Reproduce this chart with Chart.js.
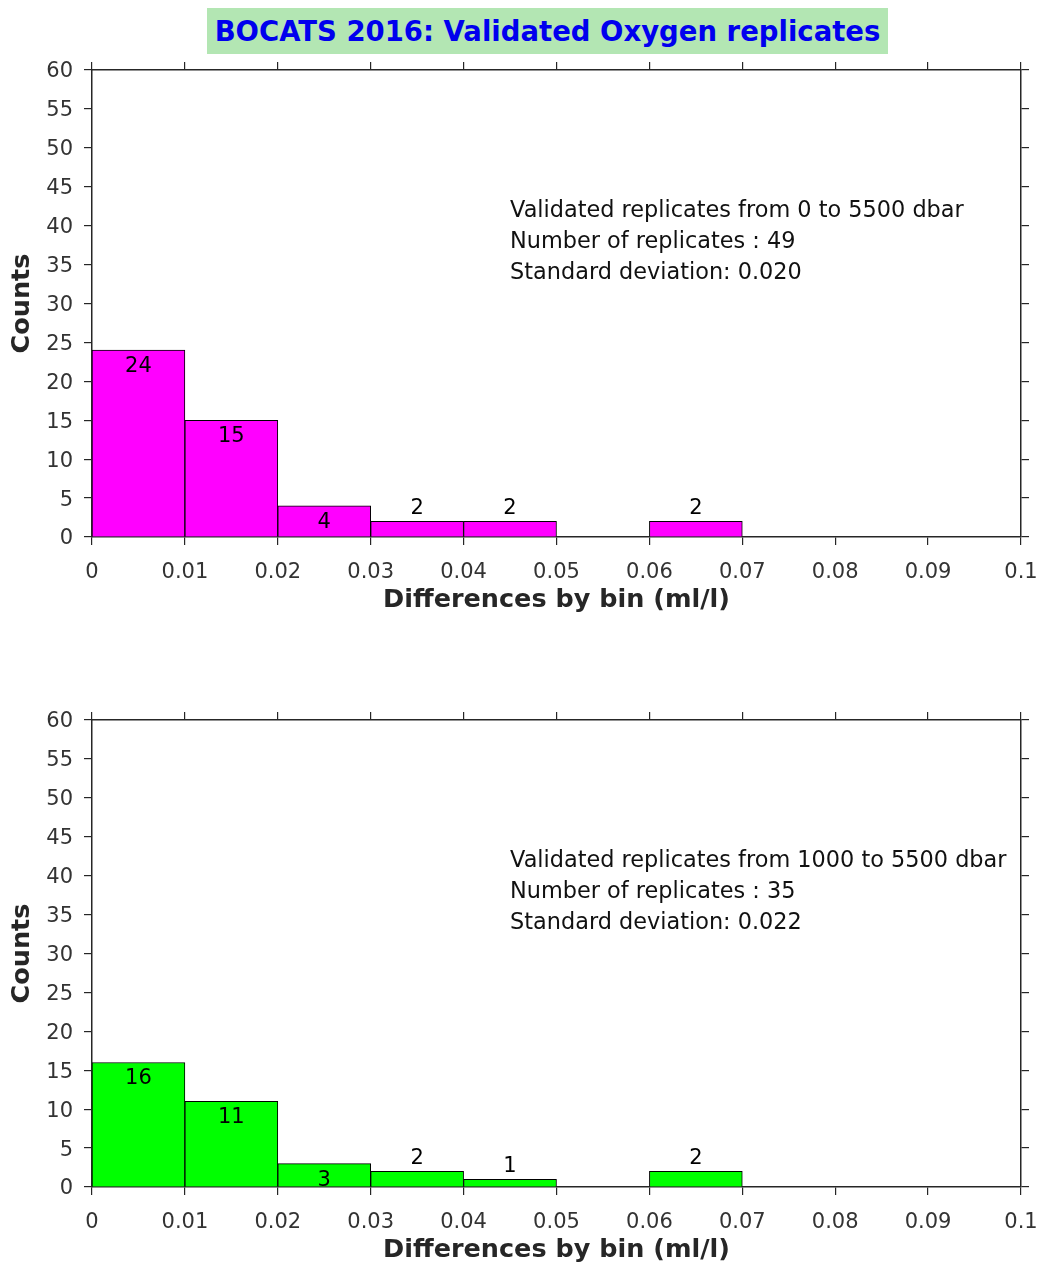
<!DOCTYPE html>
<html>
<head>
<meta charset="utf-8">
<title>BOCATS 2016: Validated Oxygen replicates</title>
<script src="https://cdn.jsdelivr.net/npm/chart.js@4.4.0/dist/chart.umd.min.js"></script>
<style>
  html, body { margin: 0; padding: 0; background: #fff; overflow: hidden; }
  #wrap { position: relative; width: 1041px; height: 1266px; }
  canvas { position: absolute; left: 0; }
  #c1 { top: 0; }
  #c2 { top: 650px; }
  #title {
    position: absolute; left: 207px; top: 8px; width: 681px; height: 46px;
    background: #b3e6b3; color: #0000ee; font: bold 27.5px 'DejaVu Sans';
    line-height: 46px; text-align: center; white-space: nowrap;
  }
</style>
</head>
<body>
<div id="wrap">
  <canvas id="c1" width="1041" height="616"></canvas>
  <canvas id="c2" width="1041" height="616"></canvas>
  <div id="title">BOCATS 2016: Validated Oxygen replicates</div>
</div>
<script>
// histogram bins (centre of each 0.01 ml/l bin)
const binCenters = [0.005, 0.015, 0.025, 0.035, 0.045, 0.055, 0.065, 0.075, 0.085, 0.095];
const countsAll  = [24, 15, 4, 2, 2, 0, 2, 0, 0, 0];   // 0 to 5500 dbar
const countsDeep = [16, 11, 3, 2, 1, 0, 2, 0, 0, 0];   // 1000 to 5500 dbar

const xMin = 0, xMax = 0.1, xStep = 0.01;
const yMin = 0, yMax = 60, yStep = 5;

const infoAll = [
  'Validated replicates from 0 to 5500 dbar',
  'Number of replicates : 49',
  'Standard deviation: 0.020'
];
const infoDeep = [
  'Validated replicates from 1000 to 5500 dbar',
  'Number of replicates : 35',
  'Standard deviation: 0.022'
];

const axisColor = '#262626';
const font = 'DejaVu Sans';

// count labels: inside the bar for tall bars, above for short ones
const barLabels = {
  id: 'barLabels',
  afterDatasetsDraw(chart) {
    const ctx = chart.ctx;
    const ys = chart.scales.y;
    const meta = chart.getDatasetMeta(0);
    const vals = chart.data.datasets[0].data;
    ctx.save();
    ctx.font = '21px ' + font;
    ctx.fillStyle = '#000';
    ctx.textAlign = 'center';
    ctx.textBaseline = 'middle';
    meta.data.forEach((bar, i) => {
      const v = vals[i].y;
      if (!v) return;
      const at = v >= 3 ? v - 2 : v + 1.8;
      ctx.fillText(String(v), bar.x, ys.getPixelForValue(at) + 1);
    });
    ctx.restore();
  }
};

// info text block inside the axes
const infoText = {
  id: 'infoText',
  afterDraw(chart, args, opts) {
    const ctx = chart.ctx;
    const x = chart.scales.x.getPixelForValue(0.045);
    ctx.save();
    ctx.font = '22.4px ' + font;
    ctx.fillStyle = '#111';
    ctx.textAlign = 'left';
    ctx.textBaseline = 'middle';
    opts.lines.forEach((t, i) => {
      ctx.fillText(t, x, chart.scales.y.getPixelForValue(42 - 4 * i) + 1);
    });
    ctx.restore();
  }
};

function makeChart(id, counts, color, lines) {
  const gridOpts = {
    drawOnChartArea: false, drawTicks: true, tickLength: 8,
    color: axisColor, lineWidth: 1.2, offset: false
  };
  const borderOpts = { display: true, color: axisColor, width: 1.5 };
  const noPad = s => { s.paddingLeft = 0; s.paddingRight = 0; s.paddingTop = 0; s.paddingBottom = 0; };
  new Chart(document.getElementById(id), {
    type: 'bar',
    data: {
      datasets: [{
        data: binCenters.map((x, i) => ({ x, y: counts[i] })),
        backgroundColor: color,
        borderColor: '#000',
        borderWidth: 1,
        barPercentage: 1,
        categoryPercentage: 1
      }]
    },
    options: {
      responsive: false,
      animation: false,
      layout: { padding: { top: 62, left: 0, right: 0, bottom: 0 } },
      plugins: {
        legend: { display: false },
        tooltip: { enabled: false },
        infoText: { lines }
      },
      scales: {
        x: {
          type: 'linear', position: 'bottom', min: xMin, max: xMax, offset: false,
          grid: gridOpts, border: borderOpts,
          ticks: {
            stepSize: xStep, padding: 15, color: '#333', maxRotation: 0, autoSkip: false,
            font: { family: font, size: 21 },
            callback: v => String(+v.toFixed(2))
          },
          title: {
            display: true, text: 'Differences by bin (ml/l)', color: '#262626',
            font: { family: font, size: 25.5, weight: 'bold' }, padding: { top: 0, bottom: 0 }
          },
          afterFit: s => { s.height = 79; noPad(s); }
        },
        x2: {
          type: 'linear', position: 'top', min: xMin, max: xMax, offset: false,
          grid: gridOpts, border: borderOpts,
          ticks: { stepSize: xStep, display: false },
          afterFit: s => { s.height = 8; noPad(s); }
        },
        y: {
          type: 'linear', position: 'left', min: yMin, max: yMax,
          grid: gridOpts, border: borderOpts,
          ticks: {
            stepSize: yStep, padding: 11, color: '#333', labelOffset: 2,
            font: { family: font, size: 21 }
          },
          title: {
            display: true, text: 'Counts', color: '#262626',
            font: { family: font, size: 25.5, weight: 'bold' }, padding: { top: 7, bottom: 0 }
          },
          afterFit: s => { s.width = 92; noPad(s); }
        },
        y2: {
          type: 'linear', position: 'right', min: yMin, max: yMax,
          grid: gridOpts, border: borderOpts,
          ticks: { stepSize: yStep, display: false },
          afterFit: s => { s.width = 20; noPad(s); }
        }
      }
    },
    plugins: [barLabels, infoText]
  });
}

makeChart('c1', countsAll, '#ff00ff', infoAll);
makeChart('c2', countsDeep, '#00ff00', infoDeep);
</script>
</body>
</html>
